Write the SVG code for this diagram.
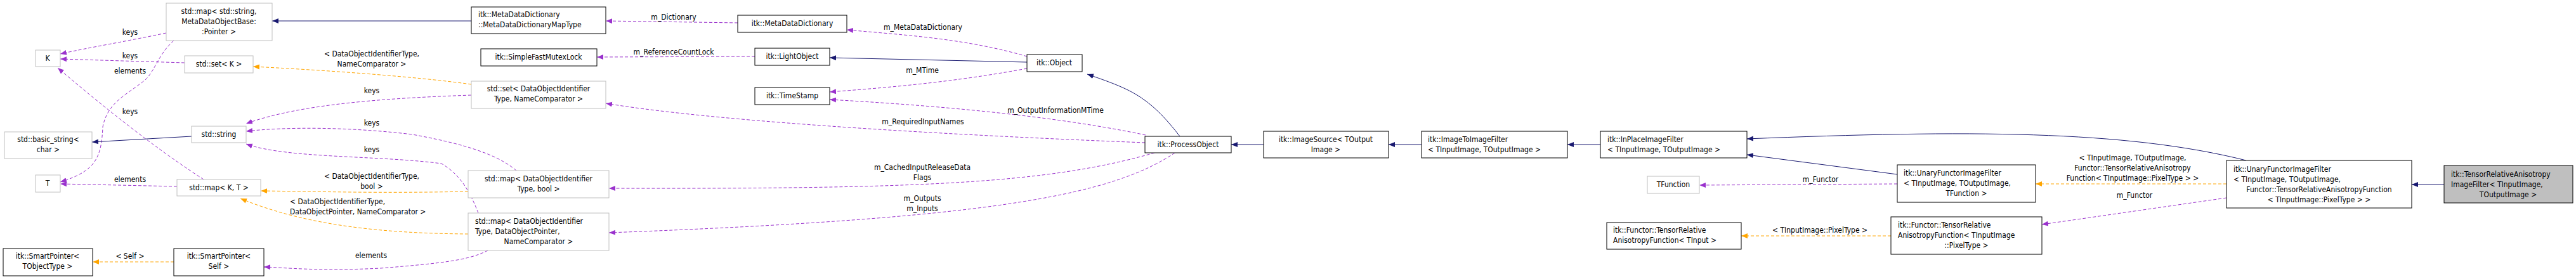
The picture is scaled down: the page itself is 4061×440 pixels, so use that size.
<svg xmlns="http://www.w3.org/2000/svg" width="4061" height="440" viewBox="0 0 4061 440">
<style>
text{font-family:"DejaVu Sans Condensed","DejaVu Sans",sans-serif;font-size:12px;fill:#000}
.m{text-anchor:middle}
.n{fill:#fff;stroke:#000;stroke-width:1}
.g{fill:#fff;stroke:#bfbfbf;stroke-width:1}
.t{fill:#bfbfbf;stroke:#000;stroke-width:1}
.inh{fill:none;stroke:#191970;stroke-width:1}
.use{fill:none;stroke:#9a32cd;stroke-width:1;stroke-dasharray:5,3}
.tpl{fill:none;stroke:#ffa500;stroke-width:1;stroke-dasharray:5,3}
</style>
<defs>
<marker id="an" viewBox="0 0 10 10" refX="10" refY="5" markerWidth="10" markerHeight="10" markerUnits="userSpaceOnUse" orient="auto"><path d="M0,1L10,5L0,9z" fill="#191970"/></marker>
<marker id="ap" viewBox="0 0 10 10" refX="10" refY="5" markerWidth="10" markerHeight="10" markerUnits="userSpaceOnUse" orient="auto"><path d="M0,1L10,5L0,9z" fill="#9a32cd"/></marker>
<marker id="ao" viewBox="0 0 10 10" refX="10" refY="5" markerWidth="10" markerHeight="10" markerUnits="userSpaceOnUse" orient="auto"><path d="M0,1L10,5L0,9z" fill="#ffa500"/></marker>
</defs>
<rect width="4061" height="440" fill="#fff"/>
<g id="connectors">
<path class="inh" marker-end="url(#an)" d="M743,33L429,33"/>
<path class="use" marker-end="url(#ap)" d="M262,52C200,65 140,75 95,85"/>
<path class="use" marker-end="url(#ap)" d="M274,64C250,85 245,110 230,125C200,150 170,160 162,200C160,250 150,270 95,287"/>
<path class="use" marker-end="url(#ap)" d="M291,99L95,93"/>
<path class="use" marker-end="url(#ap)" d="M321,283C270,250 200,200 91,107"/>
<path class="use" marker-end="url(#ap)" d="M279,294L95,290"/>
<path class="inh" marker-end="url(#an)" d="M302,215L145,224"/>
<path class="tpl" marker-end="url(#ao)" d="M274,413L146,413"/>
<path class="use" marker-end="url(#ap)" d="M1163,36L955,33"/>
<path class="use" marker-end="url(#ap)" d="M1619,89C1520,60 1420,55 1335,47"/>
<path class="use" marker-end="url(#ap)" d="M1190,89L941,90"/>
<path class="inh" marker-end="url(#an)" d="M1619,98L1308,91"/>
<path class="use" marker-end="url(#ap)" d="M1619,108C1500,130 1400,138 1308,145"/>
<path class="use" marker-end="url(#ap)" d="M1806,213C1650,180 1450,165 1308,157"/>
<path class="use" marker-end="url(#ap)" d="M1805,225C1550,215 1150,195 955,163"/>
<path class="use" marker-end="url(#ap)" d="M1820,241C1650,290 1450,298 960,297"/>
<path class="use" marker-end="url(#ap)" d="M1852,241C1750,310 1550,345 960,367"/>
<path class="inh" marker-end="url(#an)" d="M1860,215C1810,150 1780,140 1714,117"/>
<path class="inh" marker-end="url(#an)" d="M1992,228L1941,228"/>
<path class="inh" marker-end="url(#an)" d="M2241,228L2189,228"/>
<path class="inh" marker-end="url(#an)" d="M2523,228L2471,228"/>
<path class="inh" marker-end="url(#an)" d="M3541,253C3350,205 3100,205 2754,219"/>
<path class="inh" marker-end="url(#an)" d="M2991,275L2754,244"/>
<path class="use" marker-end="url(#ap)" d="M2991,290L2679,292"/>
<path class="tpl" marker-end="url(#ao)" d="M3510,290L3209,290"/>
<path class="use" marker-end="url(#ap)" d="M3510,312L3219,354"/>
<path class="tpl" marker-end="url(#ao)" d="M2981,372L2745,372"/>
<path class="inh" marker-end="url(#an)" d="M3853,291L3802,291"/>
<path class="tpl" marker-end="url(#ao)" d="M743,133C650,120 500,110 399,105"/>
<path class="tpl" marker-end="url(#ao)" d="M738,302C600,305 500,302 411,301"/>
<path class="tpl" marker-end="url(#ao)" d="M738,369C600,368 480,355 379,313"/>
<path class="use" marker-end="url(#ap)" d="M743,150C600,155 470,165 388,195"/>
<path class="use" marker-end="url(#ap)" d="M814,269C780,240 720,225 650,212C550,200 450,200 388,207"/>
<path class="use" marker-end="url(#ap)" d="M754,336C740,300 725,275 696,258C600,245 450,250 388,227"/>
<path class="use" marker-end="url(#ap)" d="M769,395C740,410 700,415 600,423C500,428 450,422 416,421"/>
</g>
<g id="edge-labels">
<text class="m" x="205" y="55">keys</text>
<text class="m" x="205" y="92">keys</text>
<text class="m" x="205" y="116">elements</text>
<text class="m" x="205" y="180">keys</text>
<text class="m" x="205" y="287">elements</text>
<text class="m" x="205" y="408">&lt; Self &gt;</text>
<text class="m" x="586" y="89">&lt; DataObjectIdentifierType,</text>
<text class="m" x="586" y="105">NameComparator &gt;</text>
<text class="m" x="586" y="147">keys</text>
<text class="m" x="586" y="198">keys</text>
<text class="m" x="586" y="240">keys</text>
<text class="m" x="586" y="282">&lt; DataObjectIdentifierType,</text>
<text class="m" x="586" y="298">bool &gt;</text>
<text x="457" y="322">&lt; DataObjectIdentifierType,</text>
<text x="457" y="338">DataObjectPointer, NameComparator &gt;</text>
<text class="m" x="585" y="407">elements</text>
<text class="m" x="1062" y="31">m_Dictionary</text>
<text class="m" x="1062" y="86">m_ReferenceCountLock</text>
<text class="m" x="1455" y="47">m_MetaDataDictionary</text>
<text class="m" x="1454" y="115">m_MTime</text>
<text class="m" x="1664" y="178">m_OutputInformationMTime</text>
<text class="m" x="1455" y="196">m_RequiredInputNames</text>
<text class="m" x="1454" y="268">m_CachedInputReleaseData</text>
<text class="m" x="1454" y="284">Flags</text>
<text class="m" x="1454" y="317">m_Outputs</text>
<text class="m" x="1454" y="333">m_Inputs</text>
<text class="m" x="2870" y="287">m_Functor</text>
<text class="m" x="3362" y="253">&lt; TInputImage, TOutputImage,</text>
<text class="m" x="3362" y="269">Functor::TensorRelativeAnisotropy</text>
<text class="m" x="3362" y="285">Function&lt; TInputImage::PixelType &gt; &gt;</text>
<text class="m" x="3365" y="312">m_Functor</text>
<text class="m" x="2869" y="367">&lt; TInputImage::PixelType &gt;</text>
</g>
<g id="n-mapmeta"><rect class="g" x="262" y="5" width="167" height="59"/><text class="m" x="345" y="22">std::map&lt; std::string,</text><text class="m" x="345" y="38">MetaDataObjectBase:</text><text class="m" x="345" y="54">:Pointer &gt;</text></g>
<g id="n-K"><rect class="g" x="56" y="79" width="39" height="26"/><text class="m" x="75" y="96">K</text></g>
<g id="n-setK"><rect class="g" x="291" y="88" width="108" height="27"/><text class="m" x="345" y="105">std::set&lt; K &gt;</text></g>
<g id="n-basicstring"><rect class="g" x="7" y="208" width="138" height="42"/><text class="m" x="76" y="224">std::basic_string&lt;</text><text class="m" x="76" y="240">char &gt;</text></g>
<g id="n-string"><rect class="g" x="302" y="199" width="86" height="26"/><text class="m" x="345" y="216">std::string</text></g>
<g id="n-T"><rect class="g" x="56" y="276" width="39" height="27"/><text class="m" x="75" y="293">T</text></g>
<g id="n-mapKT"><rect class="g" x="279" y="283" width="132" height="26"/><text class="m" x="345" y="300">std::map&lt; K, T &gt;</text></g>
<g id="n-spTObj"><rect class="n" x="5" y="392" width="141" height="43"/><text class="m" x="75" y="408">itk::SmartPointer&lt;</text><text class="m" x="75" y="424">TObjectType &gt;</text></g>
<g id="n-spSelf"><rect class="n" x="274" y="392" width="142" height="43"/><text class="m" x="345" y="408">itk::SmartPointer&lt;</text><text class="m" x="345" y="424">Self &gt;</text></g>
<g id="n-mdmaptype"><rect class="n" x="743" y="11" width="212" height="42"/><text x="754" y="27">itk::MetaDataDictionary</text><text x="754" y="43">::MetaDataDictionaryMapType</text></g>
<g id="n-mdd"><rect class="n" x="1163" y="24" width="172" height="27"/><text class="m" x="1249" y="41">itk::MetaDataDictionary</text></g>
<g id="n-mutex"><rect class="n" x="758" y="77" width="183" height="27"/><text class="m" x="849" y="94">itk::SimpleFastMutexLock</text></g>
<g id="n-light"><rect class="n" x="1190" y="76" width="118" height="27"/><text class="m" x="1249" y="93">itk::LightObject</text></g>
<g id="n-setDOI"><rect class="g" x="743" y="128" width="212" height="43"/><text class="m" x="849" y="144">std::set&lt; DataObjectIdentifier</text><text class="m" x="849" y="160">Type, NameComparator &gt;</text></g>
<g id="n-timestamp"><rect class="n" x="1190" y="138" width="118" height="27"/><text class="m" x="1249" y="155">itk::TimeStamp</text></g>
<g id="n-mapDOIbool"><rect class="g" x="738" y="269" width="222" height="43"/><text class="m" x="849" y="286">std::map&lt; DataObjectIdentifier</text><text class="m" x="849" y="302">Type, bool &gt;</text></g>
<g id="n-mapDOIDOP"><rect class="g" x="738" y="336" width="222" height="59"/><text x="749" y="353">std::map&lt; DataObjectIdentifier</text><text x="749" y="369">Type, DataObjectPointer,</text><text class="m" x="849" y="385">NameComparator &gt;</text></g>
<g id="n-object"><rect class="n" x="1619" y="86" width="87" height="27"/><text class="m" x="1662" y="103">itk::Object</text></g>
<g id="n-process"><rect class="n" x="1805" y="215" width="136" height="26"/><text class="m" x="1873" y="232">itk::ProcessObject</text></g>
<g id="n-imgsource"><rect class="n" x="1992" y="207" width="197" height="42"/><text class="m" x="2090" y="224">itk::ImageSource&lt; TOutput</text><text class="m" x="2090" y="240">Image &gt;</text></g>
<g id="n-i2i"><rect class="n" x="2241" y="207" width="230" height="42"/><text x="2251" y="224">itk::ImageToImageFilter</text><text x="2251" y="240">&lt; TInputImage, TOutputImage &gt;</text></g>
<g id="n-inplace"><rect class="n" x="2523" y="207" width="231" height="42"/><text x="2534" y="224">itk::InPlaceImageFilter</text><text x="2534" y="240">&lt; TInputImage, TOutputImage &gt;</text></g>
<g id="n-tfunction"><rect class="g" x="2597" y="278" width="82" height="27"/><text class="m" x="2638" y="295">TFunction</text></g>
<g id="n-traf-tinput"><rect class="n" x="2533" y="351" width="212" height="42"/><text x="2543" y="367">itk::Functor::TensorRelative</text><text x="2543" y="383">AnisotropyFunction&lt; TInput &gt;</text></g>
<g id="n-unary-tf"><rect class="n" x="2991" y="260" width="218" height="59"/><text x="3001" y="277">itk::UnaryFunctorImageFilter</text><text x="3001" y="293">&lt; TInputImage, TOutputImage,</text><text class="m" x="3100" y="309">TFunction &gt;</text></g>
<g id="n-traf-pix"><rect class="n" x="2981" y="342" width="238" height="59"/><text x="2992" y="359">itk::Functor::TensorRelative</text><text x="2992" y="375">AnisotropyFunction&lt; TInputImage</text><text class="m" x="3100" y="391">::PixelType &gt;</text></g>
<g id="n-unary-traf"><rect class="n" x="3510" y="253" width="292" height="75"/><text x="3521" y="271">itk::UnaryFunctorImageFilter</text><text x="3521" y="287">&lt; TInputImage, TOutputImage,</text><text class="m" x="3656" y="303">Functor::TensorRelativeAnisotropyFunction</text><text class="m" x="3656" y="319">&lt; TInputImage::PixelType &gt; &gt;</text></g>
<g id="n-target"><rect class="t" x="3853" y="261" width="203" height="59"/><text x="3864" y="279">itk::TensorRelativeAnisotropy</text><text x="3864" y="295">ImageFilter&lt; TInputImage,</text><text class="m" x="3954" y="311">TOutputImage &gt;</text></g>
</svg>
